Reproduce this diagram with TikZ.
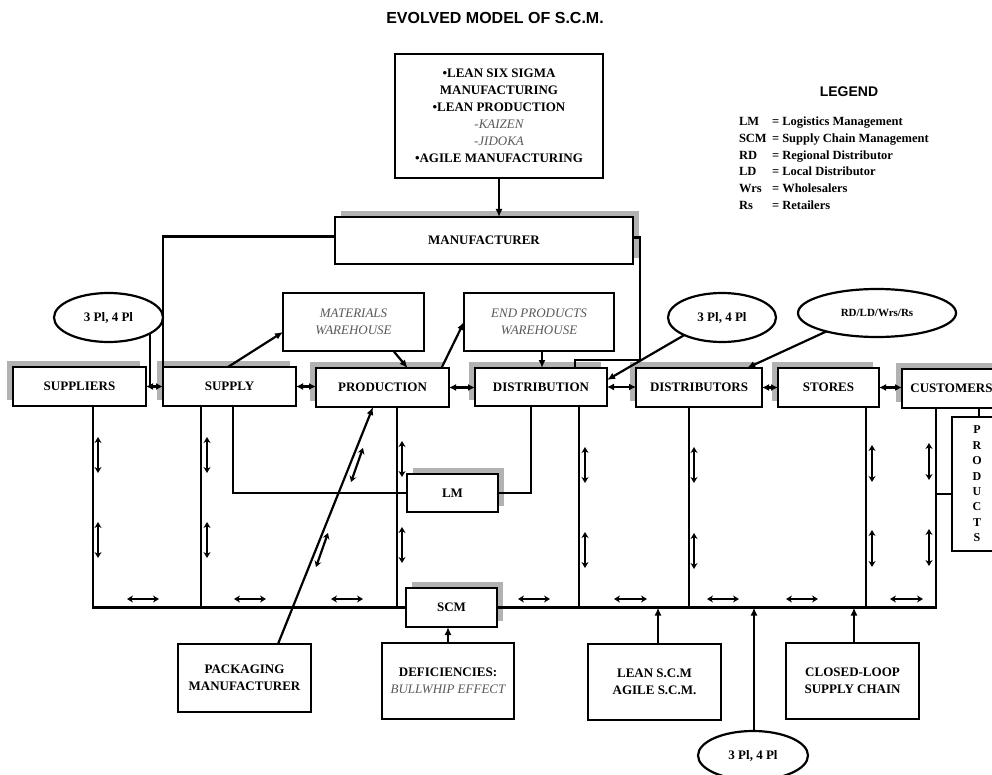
\documentclass[tikz,border=0pt]{standalone}
\usepackage{fontspec}
\setmainfont{Liberation Serif}
\setsansfont{Liberation Sans}
\usetikzlibrary{arrows.meta,shapes.geometric,shadows}
\newcommand\bt{\fontsize{13}{17}\selectfont\bfseries}
\newcommand\gitx[1]{{\mdseries\itshape\color{black!65}#1}}
\begin{document}
\begin{tikzpicture}[x=1pt,y=-1pt,line width=2.2pt,
  every node/.style={inner sep=0pt,outer sep=0pt},
  bxx/.style 2 args={draw,fill=white,rectangle,minimum width=#1,minimum height=#2,align=center,font=\bt},
  itbox/.style 2 args={draw,fill=white,rectangle,minimum width=#1,minimum height=#2,align=center,font=\fontsize{13}{17}\selectfont\itshape,text=black!65},
  elp/.style 2 args={draw,fill=white,ellipse,minimum width=#1,minimum height=#2,font=\bt},
  shL/.style={drop shadow={shadow xshift=-6pt,shadow yshift=6pt,fill=black!30,opacity=1}},
  shR/.style={drop shadow={shadow xshift=6pt,shadow yshift=6pt,fill=black!30,opacity=1}},
  arr/.style={-{Latex[length=8pt,width=7pt]}},
  dbl/.style={{Latex[length=7pt,width=7pt]}-{Latex[length=7pt,width=7pt]}},
  sm/.style={{Stealth[length=6pt,width=7pt]}-{Stealth[length=6pt,width=7pt]},line width=2.2pt},
  leg/.style={anchor=base west,font=\fontsize{12.5}{15}\selectfont\bfseries}
]
\useasboundingbox (0,0) rectangle (992,775);

% title and legend
\node[font=\fontsize{16}{18}\selectfont\sffamily\bfseries] (title) at (495,18) {EVOLVED MODEL OF S.C.M.};
\node[font=\fontsize{14}{16}\selectfont\sffamily\bfseries] (legend) at (849,92) {LEGEND};
\node[leg] (la1) at (739,126) {LM};   \node[leg] (lb1) at (772,126) {= Logistics Management};
\node[leg] (la2) at (739,142.7) {SCM};\node[leg] (lb2) at (772,142.7) {= Supply Chain Management};
\node[leg] (la3) at (739,159.3) {RD};  \node[leg] (lb3) at (772,159.3) {= Regional Distributor};
\node[leg] (la4) at (739,176) {LD};    \node[leg] (lb4) at (772,176) {= Local Distributor};
\node[leg] (la5) at (739,192.7) {Wrs}; \node[leg] (lb5) at (772,192.7) {= Wholesalers};
\node[leg] (la6) at (739,210) {Rs};    \node[leg] (lb6) at (772,210) {= Retailers};

% boxes
\node[bxx={208}{124}] (top) at (499,116) {•LEAN SIX SIGMA\\MANUFACTURING\\•LEAN PRODUCTION\\\gitx{-KAIZEN}\\\gitx{-JIDOKA}\\•AGILE MANUFACTURING};
\node[bxx={298}{47},shR] (manu) at (484,240.5) {MANUFACTURER};
\node[itbox={141}{58}] (matw) at (353.5,322) {MATERIALS\\WAREHOUSE};
\node[itbox={150}{58}] (epw) at (539,322) {END PRODUCTS\\WAREHOUSE};
\node[bxx={133}{39},shL] (suppliers) at (79.5,386.5) {SUPPLIERS};
\node[bxx={133}{39},shL] (supply) at (229.5,386.5) {SUPPLY};
\node[bxx={133}{39},shL] (production) at (382.5,387.5) {PRODUCTION};
\node[bxx={132}{38},shL] (dist) at (541,387) {DISTRIBUTION};
\node[bxx={126}{39},shL] (distributors) at (699,387.5) {DISTRIBUTORS};
\node[bxx={101}{39},shL] (stores) at (828.5,387.5) {STORES};
\node[bxx={99}{39},shL] (customers) at (951.5,388.5) {CUSTOMERS};
\node[bxx={50}{134},font=\fontsize{12}{15.4}\selectfont\bfseries] (products) at (977,484) {P\\R\\O\\D\\U\\C\\T\\S};
\node[bxx={91}{38},shR] (lm) at (452.5,493) {LM};
\node[bxx={91}{39},shR] (scm) at (451.5,607.5) {SCM};
\node[bxx={133}{68}] (pack) at (244.5,678) {PACKAGING\\MANUFACTURER};
\node[bxx={132}{76}] (defic) at (448,681) {DEFICIENCIES:\\\gitx{BULLWHIP EFFECT}};
\node[bxx={133}{76}] (lean) at (654.5,682) {LEAN S.C.M\\AGILE S.C.M.};
\node[bxx={133}{76}] (closed) at (852.5,681) {CLOSED-LOOP\\SUPPLY CHAIN};
\node[elp={109}{49}] (ell1) at (108.5,317.5) {3 Pl, 4 Pl};
\node[elp={108}{49}] (ell2) at (722,317.5) {3 Pl, 4 Pl};
\node[elp={158}{48},font=\fontsize{11}{13}\selectfont\bfseries] (ell3) at (877,313) {RD/LD/Wrs/Rs};
\node[elp={110}{49}] (ell4) at (753,755.5) {3 Pl, 4 Pl};

% top connections
\draw[arr] (top.south) -- (top.south |- manu.north);
\draw ([yshift=4pt]manu.west) -| (supply.north west);
\coordinate (mr) at (640,360);
\draw ([yshift=3pt]manu.east) -| (mr) -| ([xshift=34pt]dist.north);
\draw ([xshift=41.5pt,yshift=-15.9pt]ell1.center) -- ([xshift=41.5pt]ell1.center |- suppliers.east);
\draw[arr] ([xshift=-1.5pt]supply.north) -- ([yshift=-10pt]matw.west);
\draw[arr] ([xshift=40pt]matw.south) -- ([xshift=25pt]production.north);
\draw[arr] ([xshift=59pt]production.north) -- (epw.west);
\draw[arr] ([xshift=3pt]epw.south) -- ([xshift=3pt]epw.south |- dist.north);
\draw[arr] (ell2.205) -- ([yshift=7pt]dist.east);
\draw[arr] (ell3.200) -- ([xshift=48pt]distributors.north);

% row arrows
\draw[dbl] (suppliers.east) -- (supply.west);
\draw[dbl] (supply.east) -- (supply.east -| production.west);
\draw[dbl] (production.east) -- (production.east -| dist.west);
\draw[dbl] (dist.east) -- (dist.east -| distributors.west);
\draw[dbl] (distributors.east) -- (distributors.east -| stores.west);
\draw[dbl] (stores.east) -- (stores.east -| customers.west);

% drops to the bus
\draw ([xshift=13.5pt]suppliers.south) |- (scm.west);
\draw ([xshift=-28.5pt]supply.south) -- ([xshift=-28.5pt]supply.south |- scm.west);
\draw ([xshift=3.5pt]supply.south) |- (lm.west);
\draw ([xshift=14.5pt]production.south) -- ([xshift=14.5pt]production.south |- scm.west);
\draw ([xshift=-10pt]dist.south) |- (lm.east);
\draw ([xshift=38pt]dist.south) -- ([xshift=38pt]dist.south |- scm.east);
\draw ([xshift=-10pt]distributors.south) -- ([xshift=-10pt]distributors.south |- scm.east);
\draw ([xshift=37.5pt]stores.south) -- ([xshift=37.5pt]stores.south |- scm.east);
\coordinate (cb) at ([xshift=-15.5pt]customers.south);
\draw (scm.east) -| (cb);
\draw ([xshift=27.5pt]customers.south) -- ([xshift=27.5pt]customers.south |- products.north);
\draw ([yshift=-10pt]products.west) -- ([yshift=-10pt]products.west -| cb);

% bottom connections
\draw[arr] ([xshift=33.5pt]pack.north) -- ([xshift=-9.5pt]production.south);
\draw[arr] (defic.north) -- (defic.north |- scm.south);
\draw[arr] ([xshift=3.5pt]lean.north) -- ([xshift=3.5pt]lean.north |- scm.east);
\draw[arr] ([xshift=1.5pt]closed.north) -- ([xshift=1.5pt]closed.north |- scm.east);
\draw[arr] ([xshift=1pt]ell4.north) -- ([xshift=1pt]ell4.north |- scm.east);

% small double arrows
\foreach \x/\a/\b/\c/\d in {98/437/473/522/558,207/437/473/522/558,402/441/477/527/563,585/447/483/532/568,694/447/483/533/569,872/445/482/530/567,929/443/480/529/566}{
  \draw[sm] (\x,\a) -- (\x,\b);
  \draw[sm] (\x,\c) -- (\x,\d);
}
\foreach \a/\b in {127/159,234/266,331/363,518/550,614/647,707/739,786/818,890/923}{
  \draw[sm] (\a,599) -- (\b,599);
}
\draw[sm] (363,448) -- (351,482);
\draw[sm] (328,533) -- (316,567);
\end{tikzpicture}
\end{document}
